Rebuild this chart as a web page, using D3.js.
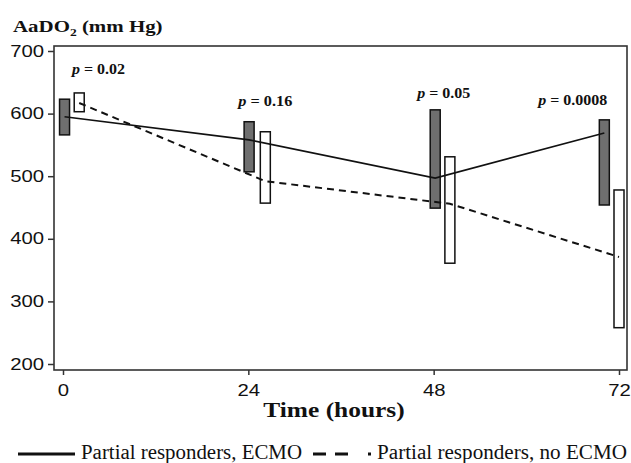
<!DOCTYPE html>
<meta charset="utf-8">
<head>
    <style>
        body {margin: 0; background: #fff;}
        .axis path {display: none;}
        .axis line {stroke: #333; stroke-width: 1.5;}
        .axis text {font-family: "Liberation Sans", Arial, sans-serif; font-size: 16px; fill: #111;}
        .serif {font-family: "Liberation Serif", "Times New Roman", serif; fill: #111;}
        .ecmo {fill: #6f6f6f; stroke: #111; stroke-width: 1.5;}
        .noecmo {fill: #fff; stroke: #111; stroke-width: 1.5;}
    </style>
    <script src="https://d3js.org/d3.v7.min.js"></script>
</head>
<body>
<script>

    // time points (hours)
    var times = [0, 24, 48, 72];

    // Partial responders, ECMO (filled boxes, solid line)
    var ecmoMean = [595, 558, 497, 569],
        ecmoLow  = [566, 507, 449, 454],
        ecmoHigh = [623, 587, 606, 590],
        ecmoAt   = [0.2, 24.1, 48.2, 70.1];

    // Partial responders, no ECMO (open boxes, dashed line)
    var noEcmoMean = [617, 492, 456, 371],
        noEcmoLow  = [603, 457, 361, 258],
        noEcmoHigh = [633, 571, 531, 478],
        noEcmoAt   = [2.1, 26.2, 50.1, 72];

    var pValues = ["0.02", "0.16", "0.05", "0.0008"];
    var yTicks = [200, 300, 400, 500, 600, 700];

    var margin = {top: 46, right: 4, bottom: 93, left: 54},
        width = 631 - margin.left - margin.right,
        height = 463 - margin.top - margin.bottom;

    var x = d3.scaleLinear().domain([0, 72]).range([9, 565]);
    var y = d3.scaleLinear().domain([200, 700]).range([318, 5]);

    var root = d3.select("body").append("svg")
        .attr("width", 631)
        .attr("height", 463);

    var svg = root.append("g")
        .attr("transform", "translate(" + margin.left + "," + margin.top + ")");

    // axes
    var sx = 1.27;
    var yAxis = svg.append("g").attr("class", "axis")
        .call(d3.axisLeft(y).tickValues(yTicks).tickSize(6).tickPadding(4));
    yAxis.selectAll(".tick text")
        .attr("x", -10 / sx)
        .attr("transform", "scale(" + sx + ",1)");

    var xAxis = svg.append("g").attr("class", "axis")
        .attr("transform", "translate(0," + height + ")")
        .call(d3.axisBottom(x).tickValues(times).tickSize(5).tickPadding(10));
    xAxis.selectAll(".tick text")
        .attr("transform", "scale(" + sx + ",1)");

    // frame
    svg.append("rect")
        .attr("width", width)
        .attr("height", height)
        .attr("fill", "none")
        .attr("stroke", "#333")
        .attr("stroke-width", 1.6);

    // boxes
    var boxW = 10;
    function boxes(cls, at, low, high) {
        svg.append("g").selectAll("rect")
            .data(times)
          .enter().append("rect")
            .attr("class", cls)
            .attr("x", function(d, i) {return x(at[i]) - boxW / 2})
            .attr("y", function(d, i) {return y(high[i])})
            .attr("width", boxW)
            .attr("height", function(d, i) {return y(low[i]) - y(high[i])});
    }
    boxes("ecmo", ecmoAt, ecmoLow, ecmoHigh);
    boxes("noecmo", noEcmoAt, noEcmoLow, noEcmoHigh);

    // mean lines
    function meanLine(at, vals) {
        return d3.line()
            .x(function(d, i) {return x(at[i])})
            .y(function(d) {return y(d)})(vals);
    }
    svg.append("path")
        .attr("d", meanLine(ecmoAt, ecmoMean))
        .attr("fill", "none")
        .attr("stroke", "#111")
        .attr("stroke-width", 1.6);
    svg.append("path")
        .attr("d", meanLine(noEcmoAt, noEcmoMean))
        .attr("fill", "none")
        .attr("stroke", "#111")
        .attr("stroke-width", 2)
        .attr("stroke-dasharray", "7,5");

    // p value labels (anchor in hours / mm Hg)
    var pAnchor = [[4.6, 663], [26.2, 612], [49.3, 625], [66.0, 614]],
        pWidth = [53, 54, 53, 69];
    pValues.forEach(function(p, i) {
        var t = svg.append("text")
            .attr("class", "serif")
            .attr("x", x(pAnchor[i][0]))
            .attr("y", y(pAnchor[i][1]))
            .attr("text-anchor", "middle")
            .attr("font-size", "14px")
            .attr("font-weight", "bold")
            .attr("textLength", pWidth[i])
            .attr("lengthAdjust", "spacingAndGlyphs");
        t.append("tspan").attr("font-style", "italic").text("p");
        t.append("tspan").text(" = " + p);
    });

    // y title
    var title = root.append("text")
        .attr("class", "serif")
        .attr("transform", "translate(13,32) scale(1.23,1)")
        .attr("font-size", "17px")
        .attr("font-weight", "bold");
    title.append("tspan").text("AaDO");
    title.append("tspan").attr("font-size", "11px").attr("dy", 4).text("2");
    title.append("tspan").attr("dy", -4).text(" (mm Hg)");

    // x title
    root.append("text")
        .attr("class", "serif")
        .attr("transform", "translate(334,417) scale(1.21,1)")
        .attr("text-anchor", "middle")
        .attr("font-size", "21px")
        .attr("font-weight", "bold")
        .text("Time (hours)");

    // legend
    var legend = root.append("g").attr("transform", "translate(0,454)");
    legend.append("line")
        .attr("x1", 18).attr("x2", 75)
        .attr("stroke", "#111").attr("stroke-width", 3);
    legend.append("text")
        .attr("class", "serif")
        .attr("x", 81).attr("y", 4.5)
        .attr("font-size", "20px")
        .attr("textLength", 221)
        .attr("lengthAdjust", "spacingAndGlyphs")
        .text("Partial responders, ECMO");
    legend.append("line")
        .attr("x1", 313).attr("x2", 371)
        .attr("stroke", "#111").attr("stroke-width", 3)
        .attr("stroke-dasharray", "13,9,13,20,3");
    legend.append("text")
        .attr("class", "serif")
        .attr("x", 377).attr("y", 4.5)
        .attr("font-size", "20px")
        .attr("textLength", 250)
        .attr("lengthAdjust", "spacingAndGlyphs")
        .text("Partial responders, no ECMO");

</script>
</body>
